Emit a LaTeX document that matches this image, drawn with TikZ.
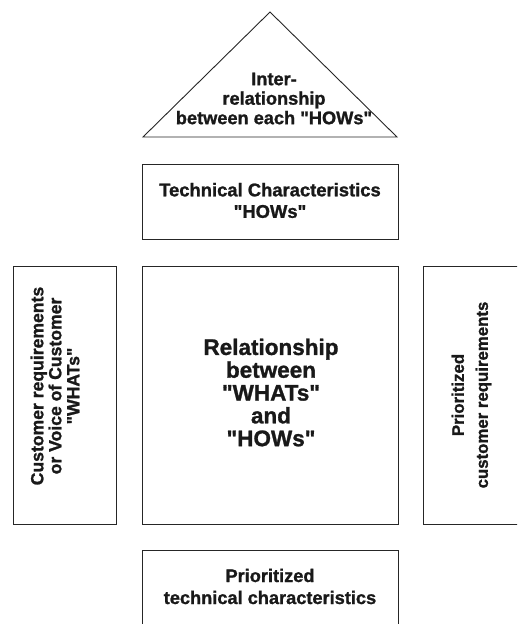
\documentclass[tikz,border=0pt]{standalone}
\usepackage{fontspec}
\setmainfont{Liberation Sans}[Ligatures=TeXOff, BoldFeatures={FakeBold=1.2}]
\begin{document}
\tikzset{
  box/.style={draw=black!85, line width=0.9pt, inner sep=0pt},
  lbl/.style={align=center, inner sep=0pt, text=black!90},
}
\begin{tikzpicture}[x=1pt,y=-1pt]
\clip (0,0) rectangle (517,624);
\fill[white] (0,0) rectangle (517,624);
% triangle (roof)
\coordinate (apex) at (270,12);
\coordinate (bl) at (143,137);
\coordinate (br) at (397,137);
\draw[box, line join=miter] (apex) -- (bl) -- (br) -- cycle;
\node[lbl, font=\bfseries\fontsize{18.2}{19.5}\selectfont] (roof) at (274,98.5) {Inter-\\relationship\\between each "HOWs"};
% boxes
\node[box, minimum width=256pt, minimum height=75pt] (hows) at (270,201.5) {};
\node[box, minimum width=256pt, minimum height=258pt] (rel) at (270,395) {};
\node[box, minimum width=103pt, minimum height=258pt] (whats) at (64.5,395) {};
\node[box, minimum width=120pt, minimum height=258pt] (prc) at (483,395) {};
\node[box, minimum width=256pt, minimum height=90pt] (prt) at (270,595) {};
% labels
\node[lbl, font=\bfseries\fontsize{18.4}{21.5}\selectfont] (howsT) at (270,200.5) {Technical Characteristics\\"HOWs"};
\node[lbl, font=\bfseries\fontsize{22.5}{22.8}\selectfont] (relT) at (271,392.5) {Relationship\\between\\"WHATs"\\and\\"HOWs"};
\node[lbl, rotate=90, font=\bfseries\fontsize{17.6}{18}\selectfont] (whatsT) at (55,386) {Customer requirements\\or Voice of Customer\\"WHATs"};
\node[lbl, rotate=90, font=\bfseries\fontsize{16.8}{24}\selectfont] (prcT) at (471.5,395) {Prioritized\\customer requirements};
\node[lbl, font=\bfseries\fontsize{18.2}{22}\selectfont] (prtT) at (270,586.5) {Prioritized\\technical characteristics};
\end{tikzpicture}
\end{document}
